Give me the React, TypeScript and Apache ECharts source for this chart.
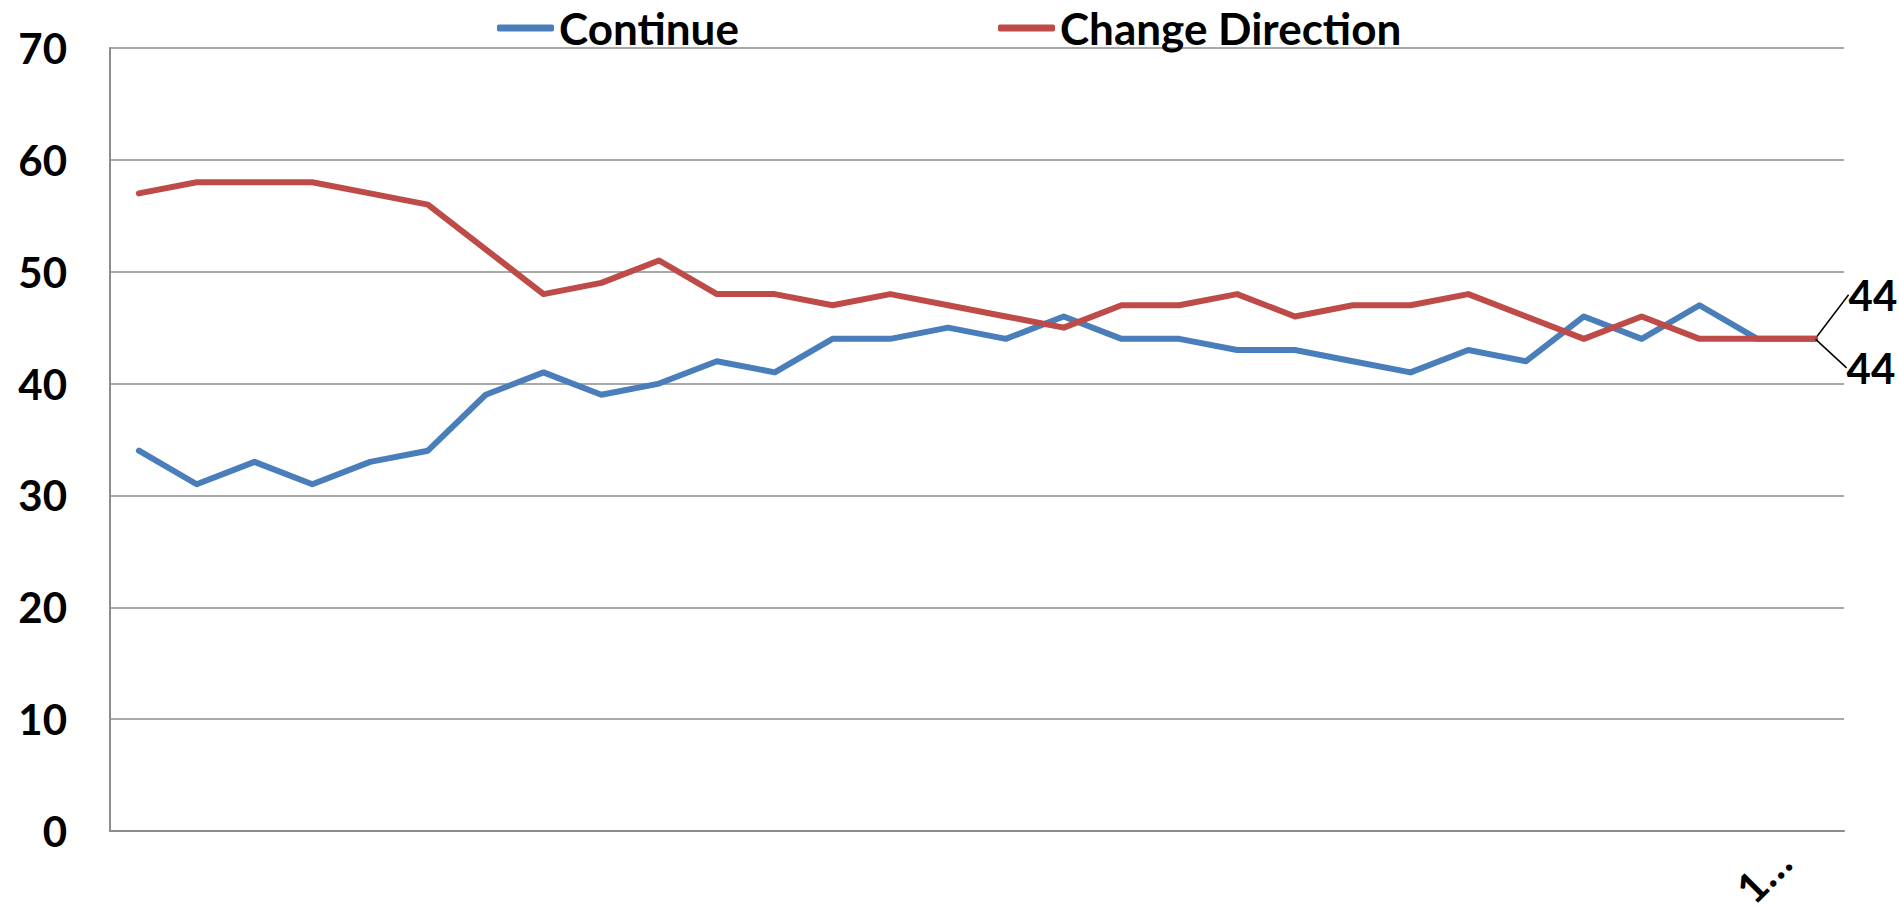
import React, { useEffect, useRef } from "react";
import * as echarts from "echarts";

const categories: string[] = [
  "", "", "", "", "", "", "", "", "", "", "", "", "", "", "",
  "", "", "", "", "", "", "", "", "", "", "", "", "", "", "1…",
];
const continueValues: number[] = [
  34, 31, 33, 31, 33, 34, 39, 41, 39, 40, 42, 41, 44, 44, 45,
  44, 46, 44, 44, 43, 43, 42, 41, 43, 42, 46, 44, 47, 44, 44,
];
const changeValues: number[] = [
  57, 58, 58, 58, 57, 56, 52, 48, 49, 51, 48, 48, 47, 48, 47,
  46, 45, 47, 47, 48, 46, 47, 47, 48, 46, 44, 46, 44, 44, 44,
];
const seriesNames: string[] = ["Continue", "Change Direction"];
const yTicks = { min: 0, max: 70, interval: 10 };

const FONT = "Lato, 'Noto Sans', sans-serif";
const BLUE = "#4A7EBB";
const RED = "#BE4B48";
const GRID = "#8C8C8C";

function withEndLabel(values: number[]) {
  return values.map((v, i) =>
    i === values.length - 1
      ? { value: v, label: { show: true } }
      : { value: v, label: { show: false } }
  );
}

export default function App() {
  const ref = useRef<HTMLDivElement>(null);
  useEffect(() => {
    document.body.style.margin = "0";
    document.body.style.overflow = "hidden";
    document.documentElement.style.overflow = "hidden";
    if (!ref.current) return;
    const chart = echarts.init(ref.current, undefined, { renderer: "svg" });
    const baseText = {
      fontFamily: FONT,
      fontWeight: "bold" as const,
      color: "#000",
    };
    const legendText = { ...baseText, fontSize: 44 };
    chart.setOption({
      animation: false,
      backgroundColor: "#fff",
      grid: {
        left: 110,
        right: 55,
        top: 48,
        bottom: 76,
        containLabel: false,
        outerBoundsMode: "none",
      },
      legend: [
        {
          data: [seriesNames[0]],
          left: 492,
          top: 1,
          icon: "roundRect",
          itemWidth: 57,
          itemHeight: 7,
          itemGap: 0,
          textStyle: legendText,
        },
        {
          data: [seriesNames[1]],
          left: 993,
          top: 1,
          icon: "roundRect",
          itemWidth: 57,
          itemHeight: 7,
          itemGap: 0,
          textStyle: legendText,
        },
      ],
      xAxis: {
        type: "category",
        data: categories,
        boundaryGap: true,
        axisLine: { show: true, lineStyle: { color: GRID, width: 2 } },
        axisTick: { show: false },
        axisLabel: {
          interval: 0,
          rotate: 45,
          margin: -8,
          ...baseText,
          fontSize: 42,
          padding: [0, 45, 0, 0],
        },
        splitLine: { show: false },
      },
      yAxis: {
        type: "value",
        min: yTicks.min,
        max: yTicks.max,
        interval: yTicks.interval,
        axisLine: { show: true, lineStyle: { color: GRID, width: 2 } },
        axisTick: { show: false },
        axisLabel: { margin: 43, ...baseText, fontSize: 42 },
        splitLine: { show: true, lineStyle: { color: GRID, width: 1.6 } },
      },
      series: [
        {
          name: seriesNames[0],
          type: "line",
          data: withEndLabel(continueValues),
          color: BLUE,
          lineStyle: { color: BLUE, width: 6, cap: "round", join: "round" },
          symbol: "circle",
          symbolSize: 1,
          showSymbol: true,
          itemStyle: { color: BLUE },
          label: { position: "right", distance: 5, ...baseText, fontSize: 42 },
          labelLayout: { dx: 28, dy: -44 },
          labelLine: { show: true, lineStyle: { color: "#000", width: 1.5 } },
          emphasis: { disabled: true },
          z: 2,
        },
        {
          name: seriesNames[1],
          type: "line",
          data: withEndLabel(changeValues),
          color: RED,
          lineStyle: { color: RED, width: 6, cap: "round", join: "round" },
          symbol: "circle",
          symbolSize: 1,
          showSymbol: true,
          itemStyle: { color: RED },
          label: { position: "right", distance: 5, ...baseText, fontSize: 42 },
          labelLayout: { dx: 26, dy: 29 },
          labelLine: { show: true, lineStyle: { color: "#000", width: 1.5 } },
          emphasis: { disabled: true },
          z: 3,
        },
      ],
    });
    return () => chart.dispose();
  }, []);
  return (
    <div
      ref={ref}
      style={{
        position: "fixed",
        left: 0,
        top: 0,
        width: 1899,
        height: 907,
        overflow: "hidden",
      }}
    />
  );
}
